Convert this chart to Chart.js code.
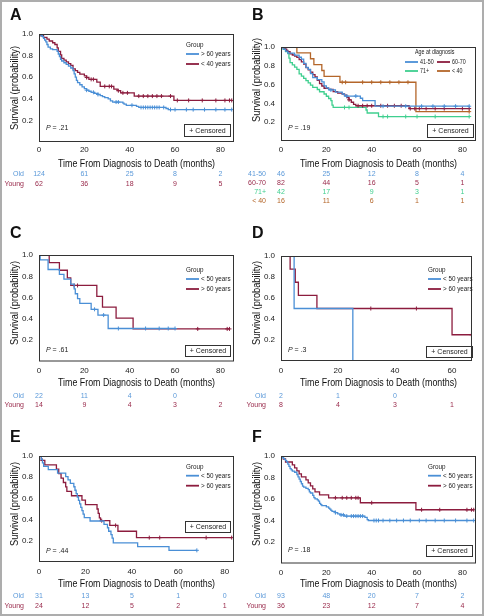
<!DOCTYPE html>
<html>
<head>
<meta charset="utf-8">
<script src="https://cdn.jsdelivr.net/npm/chart.js@4.4.1/dist/chart.umd.min.js"></script>
<style>
  body { margin: 0; background: #fff; }
  #fig { position: relative; width: 484px; height: 616px; overflow: hidden; }
  #frame { position: absolute; left: 0; top: 0; width: 484px; height: 616px; border: 2px solid #adadad; box-sizing: border-box; pointer-events: none; z-index: 5; }
</style>
</head>
<body>
<div id="fig"><div id="frame"></div></div>
<script>
// ---- data (months, survival probability) ----
const xTicks = [0, 20, 40, 60, 80];
const xTicksD = [0, 20, 40, 60];

// A: > 60 years (Old) vs < 40 years (Young)
const aOldT = [0.5,1,1.5,2,2.5,3,3.5,4,5,6,8,8.5,9,9.5,10,11,12,13,14,15,15.5,16,16.5,17,18,19,20,21,22,23,24.5,26,27,28,29,30.5,31.5,32.5,37,37.5,38.5,43,44,56,57];
const aOldS = [0.992,0.984,0.976,0.96,0.944,0.927,0.903,0.879,0.863,0.855,0.839,0.815,0.79,0.766,0.75,0.734,0.718,0.702,0.685,0.66,0.63,0.60,0.57,0.55,0.53,0.51,0.495,0.48,0.47,0.46,0.45,0.44,0.43,0.42,0.41,0.40,0.38,0.37,0.36,0.35,0.34,0.33,0.32,0.31,0.30];
const aOldC = [21,24,26,34,35,41,45,46,47,48,49,50,51,52,53,55,58,60,65,68,73,78,82,85];
const aYoungT = [0.8,2,3.5,4.5,6,7,8,8.5,9.5,10,11,12,13,14,15,16,17,18,20,21,22,25.5,27,33,34.5,36,42,59.5];
const aYoungS = [0.984,0.968,0.952,0.935,0.919,0.903,0.871,0.839,0.806,0.774,0.758,0.742,0.726,0.71,0.677,0.661,0.645,0.629,0.613,0.597,0.58,0.555,0.515,0.49,0.475,0.455,0.425,0.385];
const aYoungC = [21,23,24,29,31,32,35,37,39,44,46,48,50,52,54,58,61,66,72,78,82,84,85];
const aRiskOld = [124, 61, 25, 8, 2];
const aRiskYoung = [62, 36, 18, 9, 5];

// B: age at diagnosis
const b4150T = [1,2,3,6,8,9,10,11,12,13,14,16,18,19,20,21,24,27,28,35,36,41.5];
const b4150S = [0.978,0.957,0.935,0.913,0.891,0.87,0.826,0.783,0.761,0.717,0.674,0.652,0.63,0.587,0.565,0.543,0.521,0.5,0.478,0.455,0.43,0.37];
const b4150C = [22,29,33,45,55,62,67,72,77,83];
const b6070T = [1,2,2.5,3,4,5,6,7,8,9,10,11,12,13,14,15,16,17,18,19,21,23,25,27,28,29,30,31,32,33,56.5];
const b6070S = [0.988,0.976,0.963,0.951,0.927,0.915,0.902,0.89,0.866,0.841,0.817,0.78,0.756,0.732,0.707,0.683,0.646,0.61,0.585,0.561,0.549,0.525,0.51,0.50,0.487,0.462,0.438,0.412,0.39,0.375,0.345];
const b6070C = [30,34,36,38,40,44,47,50,53,57,59,61,64,68,72,80,83];
const b71T = [1,2,3,3.5,4,5,6,7,8,9,10,11,12,13,14,16,17,19,20,21,22,22.5,23,37.5,38,43];
const b71S = [0.976,0.952,0.929,0.881,0.833,0.81,0.786,0.762,0.714,0.69,0.667,0.643,0.619,0.595,0.571,0.548,0.524,0.5,0.476,0.452,0.429,0.381,0.357,0.33,0.298,0.26];
const b71C = [28,30,45,47,55,60,68,83];
const b40T = [7,13,14.5,18,19,26,59.5];
const b40S = [0.9375,0.875,0.8125,0.75,0.6875,0.625,0.3125];
const b40C = [27,28.5,36,40,44,48,52,56,83];
const bRisk4150 = [46, 25, 12, 8, 4];
const bRisk6070 = [82, 44, 16, 5, 1];
const bRisk71 = [42, 17, 9, 3, 1];
const bRisk40 = [16, 11, 6, 1, 1];

// C
const cOldT = [0.5,4,9,11,14,15.5,16,17,18,23,26,30.5];
const cOldS = [0.955,0.864,0.818,0.773,0.727,0.682,0.636,0.591,0.545,0.49,0.436,0.31];
const cOldC = [24.5,28.5,35,47,53,57,60];
const cYoungT = [4.5,9,12.5,14,25.5,28,34,41.5];
const cYoungS = [0.929,0.857,0.786,0.714,0.612,0.51,0.408,0.306];
const cYoungC = [15.5,17,70,83,84];
const cRiskOld = [22, 11, 4, 0];
const cRiskYoung = [14, 9, 4, 3, 2];

// D
const dOldT = [4.6,25.2];
const dOldS = [0.5,0];
const dOldC = [];
const dYoungT = [3.2,5,6.1,12.6,60];
const dYoungS = [0.875,0.75,0.625,0.5,0.25];
const dYoungC = [31.5,47.5,66.8];
const dRiskOld = [2, 1, 0];
const dRiskYoung = [8, 4, 3, 1];

// E
const eOldT = [1,1.5,2,4,8,11.5,12.5,13.5,15,15.5,16,16.5,17,17.5,18,18.5,19,19.5,22,28,29.5,30,31,31.5,32,42.5,56];
const eOldS = [0.968,0.935,0.903,0.871,0.839,0.806,0.774,0.742,0.71,0.677,0.645,0.613,0.581,0.548,0.516,0.484,0.452,0.419,0.387,0.355,0.323,0.29,0.258,0.226,0.18,0.145,0.11];
const eOldC = [68];
const eYoungT = [1,2.5,7.5,8.5,9.5,10.5,11.5,12,14,18.5,20,25,25.5,26,26.5,30.5,34,42];
const eYoungS = [0.958,0.917,0.875,0.833,0.792,0.75,0.708,0.667,0.625,0.583,0.542,0.5,0.458,0.417,0.39,0.345,0.29,0.23];
const eYoungC = [1.5,27,33,47.5,52,72,83];
const eRiskOld = [31, 13, 5, 1, 0];
const eRiskYoung = [24, 12, 5, 2, 1];

// F
const fOldT = [0.5,1,1.5,2,2.5,3,3.5,4,4.5,5,6,7,7.5,8,8.5,9,9.5,10,11,12,12.5,13,14,14.5,15,16,16.5,17,17.5,18,20,21,21.5,22,22.5,24,25,26,28,37,38,38.5];
const fOldS = [0.989,0.978,0.968,0.957,0.946,0.925,0.903,0.882,0.871,0.86,0.849,0.828,0.806,0.785,0.763,0.742,0.72,0.71,0.699,0.688,0.667,0.656,0.634,0.613,0.602,0.591,0.58,0.559,0.548,0.538,0.527,0.516,0.505,0.495,0.484,0.473,0.462,0.452,0.441,0.43,0.408,0.4];
const fOldC = [24,26.5,27.5,29,31,32,33,34,35,36,41,42,43,45,48,51,54,57,61,64,68,72,77,82,85];
const fYoungT = [1,2,5,6,7,8,9,11,12,13,14,15,17,21,35,59.5];
const fYoungS = [0.972,0.944,0.917,0.889,0.861,0.833,0.806,0.778,0.75,0.722,0.694,0.667,0.639,0.611,0.565,0.5];
const fYoungC = [24,27,29,31,33,34,40,62,70,82,84,85];
const fRiskOld = [93, 48, 20, 7, 2];
const fRiskYoung = [36, 23, 12, 7, 4];

// ---- colours ----
const BLUE = '#4a8fd6';
const RED = '#8c1c3e';
const GREEN = '#3fcf8f';
const BROWN = '#b4662a';
const BLUE_TXT = '#5b99d9';
const RED_TXT = '#992a4b';
const SANS = '"Liberation Sans", Arial, sans-serif';

function stepAt(T, S, t) {
  let y = 1;
  for (let i = 0; i < T.length; i++) if (T[i] <= t) y = S[i];
  return y;
}

function km(T, S, C, color) {
  const pts = [{ x: 0, y: 1 }];
  T.forEach((t, i) => pts.push({ x: t, y: S[i] }));
  const end = C.length ? C[C.length - 1] : 0;
  if (end > T[T.length - 1]) pts.push({ x: end, y: S[S.length - 1] });
  return [
    { data: pts, borderColor: color, borderWidth: 1.3, pointRadius: 0, stepped: 'before', fill: false },
    { data: C.map(t => ({ x: t, y: stepAt(T, S, t) })), showLine: false, pointStyle: 'cross',
      pointRadius: 2, borderColor: color, borderWidth: 1 }
  ];
}

// text squeezed horizontally (the original uses a condensed face)
function narrowText(ctx, str, x, y, sx) {
  ctx.save();
  ctx.translate(x, y);
  ctx.scale(sx, 1);
  ctx.fillText(str, 0, 0);
  ctx.restore();
}

const deco = {
  id: 'deco',
  afterDraw(chart) {
    const p = chart.options.plugins.deco;
    const ctx = chart.ctx, a = chart.chartArea, xs = chart.scales.x;
    ctx.save();
    // plot frame
    ctx.strokeStyle = '#333';
    ctx.lineWidth = 1;
    ctx.strokeRect(a.left + 0.5, a.top + 0.5, a.right - a.left - 1, a.bottom - a.top - 1);

    ctx.fillStyle = '#111';
    ctx.textBaseline = 'alphabetic';
    ctx.textAlign = 'left';
    ctx.font = 'bold 16px ' + SANS;
    ctx.fillText(p.letter, 10, p.letterY);

    // axis titles
    ctx.font = '11px ' + SANS;
    ctx.textBaseline = 'middle';
    ctx.textAlign = 'center';
    const xt = 'Time From Diagnosis to Death (months)';
    narrowText(ctx, xt, 136.5, p.xTitleY, 157 / ctx.measureText(xt).width);
    const yt = 'Survival (probability)';
    ctx.save();
    ctx.translate(15, p.yTitleY);
    ctx.rotate(-Math.PI / 2);
    ctx.scale(84 / ctx.measureText(yt).width, 1);
    ctx.fillText(yt, 0, 0);
    ctx.restore();

    // legend
    const lg = p.legend;
    ctx.font = lg.fs + 'px ' + SANS;
    ctx.fillStyle = '#222';
    ctx.textAlign = 'left';
    narrowText(ctx, lg.title, lg.titleX, lg.titleY, lg.sx);
    lg.items.forEach(it => {
      ctx.strokeStyle = it.color;
      ctx.lineWidth = 1.8;
      ctx.beginPath();
      ctx.moveTo(it.x, it.y);
      ctx.lineTo(it.x + lg.lineW, it.y);
      ctx.stroke();
      narrowText(ctx, it.label, it.x + lg.lineW + 2, it.y, lg.sx);
    });

    // censored box
    ctx.font = '7px ' + SANS;
    const [bx, by, bw, bh] = p.censBox;
    ctx.strokeStyle = '#333';
    ctx.lineWidth = 1;
    ctx.strokeRect(bx + 0.5, by + 0.5, bw, bh);
    ctx.textAlign = 'center';
    ctx.fillText('+ Censored', bx + bw / 2 + 0.5, by + bh / 2 + 1);

    // P value
    ctx.textAlign = 'left';
    ctx.font = 'italic 7px ' + SANS;
    ctx.fillText('P', 46, p.pY);
    const pw = ctx.measureText('P').width;
    ctx.font = '7px ' + SANS;
    ctx.fillText(' = ' + p.pText, 46 + pw, p.pY);

    // numbers at risk
    p.risk.forEach((r, i) => {
      const y = p.riskY[i];
      ctx.fillStyle = r.color;
      ctx.textAlign = 'right';
      ctx.fillText(r.label, 24, y);
      ctx.textAlign = 'center';
      r.values.forEach((v, j) => ctx.fillText(String(v), xs.getPixelForValue(p.ticks[j]), y));
    });
    ctx.restore();
  }
};

function groupLegend(y0, first, second) {
  return {
    title: 'Group', titleX: 186, titleY: y0, lineW: 13, fs: 7, sx: 0.9,
    items: [
      { label: first, color: BLUE, x: 186, y: y0 + 9 },
      { label: second, color: RED, x: 186, y: y0 + 19 }
    ]
  };
}

const panels = [
  {
    letter: 'A', left: 0, top: 0, w: 242, h: 205, area: [39, 34, 234, 142], xMax: 86, ticks: xTicks,
    letterY: 20, xLabY: 150, xTitleY: 164, yTitleY: 88, pText: '.21', pY: 128, censBox: [184, 124, 46, 12],
    legend: groupLegend(45, '> 60 years', '< 40 years'),
    datasets: [...km(aOldT, aOldS, aOldC, BLUE), ...km(aYoungT, aYoungS, aYoungC, RED)],
    risk: [{ label: 'Old', color: BLUE_TXT, values: aRiskOld }, { label: 'Young', color: RED_TXT, values: aRiskYoung }],
    riskY: [174, 184]
  },
  {
    letter: 'B', left: 242, top: 0, w: 242, h: 205, area: [39, 47, 234, 141], xMax: 86, ticks: xTicks,
    letterY: 20, xLabY: 150, xTitleY: 164, yTitleY: 80, pText: '.19', pY: 128, censBox: [185, 124, 46, 13],
    legend: {
      title: 'Age at diagnosis', titleX: 173, titleY: 52, lineW: 13, fs: 6.5, sx: 0.82,
      items: [
        { label: '41-50', color: BLUE, x: 163, y: 62 },
        { label: '60-70', color: RED, x: 195, y: 62 },
        { label: '71+', color: GREEN, x: 163, y: 71 },
        { label: '< 40', color: BROWN, x: 195, y: 71 }
      ]
    },
    datasets: [...km(b4150T, b4150S, b4150C, BLUE), ...km(b6070T, b6070S, b6070C, RED),
               ...km(b71T, b71S, b71C, GREEN), ...km(b40T, b40S, b40C, BROWN)],
    risk: [{ label: '41-50', color: BLUE_TXT, values: bRisk4150 }, { label: '60-70', color: RED_TXT, values: bRisk6070 },
           { label: '71+', color: GREEN, values: bRisk71 }, { label: '< 40', color: BROWN, values: bRisk40 }],
    riskY: [174, 183.5, 192.5, 201.5]
  },
  {
    letter: 'C', left: 0, top: 205, w: 242, h: 205, area: [39, 50, 234, 156.5], xMax: 86, ticks: xTicks,
    letterY: 33, xLabY: 165.7, xTitleY: 177.7, yTitleY: 98, pText: '.61', pY: 145, censBox: [185, 140, 45, 11],
    legend: groupLegend(65, '< 50 years', '> 60 years'),
    datasets: [...km(cOldT, cOldS, cOldC, BLUE), ...km(cYoungT, cYoungS, cYoungC, RED)],
    risk: [{ label: 'Old', color: BLUE_TXT, values: cRiskOld }, { label: 'Young', color: RED_TXT, values: cRiskYoung }],
    riskY: [190.7, 200]
  },
  {
    letter: 'D', left: 242, top: 205, w: 242, h: 205, area: [39, 51, 230, 156], xMax: 67, ticks: xTicksD,
    letterY: 33, xLabY: 165.7, xTitleY: 177.7, yTitleY: 98, pText: '.3', pY: 145, censBox: [184, 141, 46, 11],
    legend: groupLegend(65, '< 50 years', '> 60 years'),
    datasets: [...km(dOldT, dOldS, dOldC, BLUE), ...km(dYoungT, dYoungS, dYoungC, RED)],
    risk: [{ label: 'Old', color: BLUE_TXT, values: dRiskOld }, { label: 'Young', color: RED_TXT, values: dRiskYoung }],
    riskY: [190.7, 200]
  },
  {
    letter: 'E', left: 0, top: 410, w: 242, h: 206, area: [39, 46, 234, 152], xMax: 84, ticks: xTicks,
    letterY: 31.7, xLabY: 161.7, xTitleY: 174.3, yTitleY: 94, pText: '.44', pY: 140.7, censBox: [185, 111, 45, 11],
    legend: groupLegend(56.7, '< 50 years', '> 60 years'),
    datasets: [...km(eOldT, eOldS, eOldC, BLUE), ...km(eYoungT, eYoungS, eYoungC, RED)],
    risk: [{ label: 'Old', color: BLUE_TXT, values: eRiskOld }, { label: 'Young', color: RED_TXT, values: eRiskYoung }],
    riskY: [185.7, 195.7]
  },
  {
    letter: 'F', left: 242, top: 410, w: 242, h: 206, area: [39, 46, 234, 153.5], xMax: 86, ticks: xTicks,
    letterY: 31.7, xLabY: 163, xTitleY: 174.3, yTitleY: 94, pText: '.18', pY: 140, censBox: [184, 135, 46, 11],
    legend: groupLegend(56.7, '< 50 years', '> 60 years'),
    datasets: [...km(fOldT, fOldS, fOldC, BLUE), ...km(fYoungT, fYoungS, fYoungC, RED)],
    risk: [{ label: 'Old', color: BLUE_TXT, values: fRiskOld }, { label: 'Young', color: RED_TXT, values: fRiskYoung }],
    riskY: [185.7, 196]
  }
];

const fig = document.getElementById('fig');
panels.forEach(p => {
  const cv = document.createElement('canvas');
  cv.width = p.w;
  cv.height = p.h;
  cv.style.cssText = `position:absolute;left:${p.left}px;top:${p.top}px;width:${p.w}px;height:${p.h}px`;
  fig.appendChild(cv);
  const [l, t, r, b] = p.area;
  new Chart(cv, {
    type: 'line',
    data: { datasets: p.datasets },
    options: {
      responsive: false,
      animation: false,
      devicePixelRatio: 1,
      events: [],
      layout: { padding: { left: 0, top: t, right: p.w - r, bottom: 0 } },
      plugins: { legend: { display: false }, tooltip: { enabled: false }, deco: p },
      scales: {
        x: {
          type: 'linear', min: 0, max: p.xMax,
          afterFit: s => { s.height = p.h - b; },
          afterBuildTicks: s => { s.ticks = p.ticks.map(v => ({ value: v })); },
          grid: { display: false, drawTicks: false },
          border: { display: false },
          ticks: { padding: p.xLabY - b - 4.8, color: '#222', font: { family: SANS, size: 8 }, maxRotation: 0 }
        },
        y: {
          min: 0, max: 1,
          afterFit: s => { s.width = l; },
          grid: { display: false, drawTicks: false },
          border: { display: false },
          ticks: { stepSize: 0.2, padding: 6, color: '#222', font: { family: SANS, size: 8 },
                   callback: v => (v < 0.01 ? '' : v.toFixed(1)) }
        }
      }
    },
    plugins: [deco]
  });
});
</script>
</body>
</html>
